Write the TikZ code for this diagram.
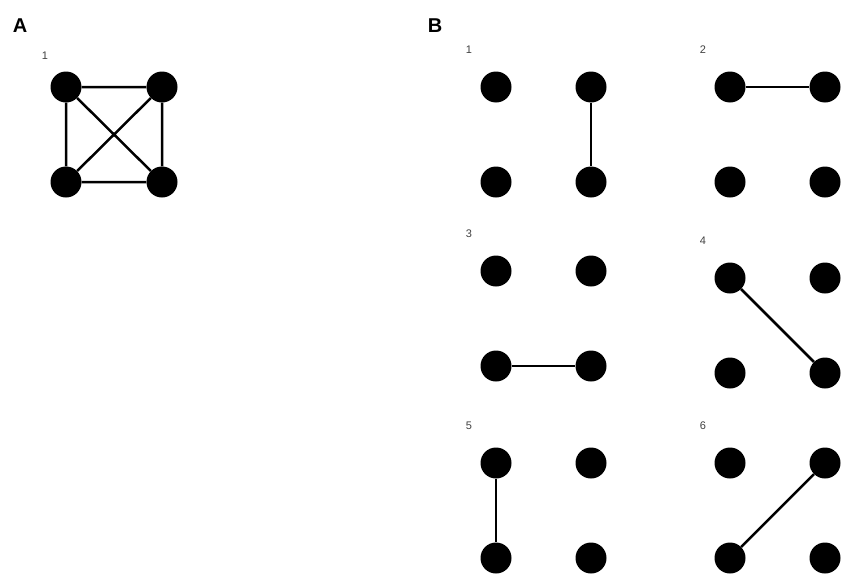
\documentclass[tikz,border=0pt]{standalone}
\usepackage{fontspec}
\setmainfont{Liberation Sans}
\begin{document}
\begin{tikzpicture}[x=1pt,y=-1pt,
  dot/.style={circle,fill=black,inner sep=0pt,minimum size=31pt},
  edge/.style={line width=2.5pt},
  panel/.style={font=\bfseries\fontsize{20}{20}\selectfont},
  num/.style={font=\fontsize{11}{11}\selectfont,text=black!75}]
\useasboundingbox (0,0) rectangle (850,581);
\node[panel] (LA) at (20,26) {A};
\node[panel] (LB) at (435,26) {B};
\node[num] (nA) at (45,56) {1};
\node[dot] (a1) at (66,87) {};
\node[dot] (a2) at (162,87) {};
\node[dot] (a3) at (66,182) {};
\node[dot] (a4) at (162,182) {};
\draw[edge] (a1)--(a2) (a1)--(a3) (a2)--(a4) (a3)--(a4) (a1)--(a4) (a2)--(a3);
% B panels
\foreach \n/\x/\y in {1/496/87, 2/730/87, 3/496/271, 4/730/278, 5/496/463, 6/730/463}{
  \node[num] (n\n) at (\x-27,\y-37) {\n};
  \node[dot] (p\n tl) at (\x,\y) {};
  \node[dot] (p\n tr) at (\x+95,\y) {};
  \node[dot] (p\n bl) at (\x,\y+95) {};
  \node[dot] (p\n br) at (\x+95,\y+95) {};
}
\draw[edge] (p1tr)--(p1br);
\draw[edge] (p2tl)--(p2tr);
\draw[edge] (p3bl)--(p3br);
\draw[edge] (p4tl)--(p4br);
\draw[edge] (p5tl)--(p5bl);
\draw[edge] (p6bl)--(p6tr);
\end{tikzpicture}
\end{document}
